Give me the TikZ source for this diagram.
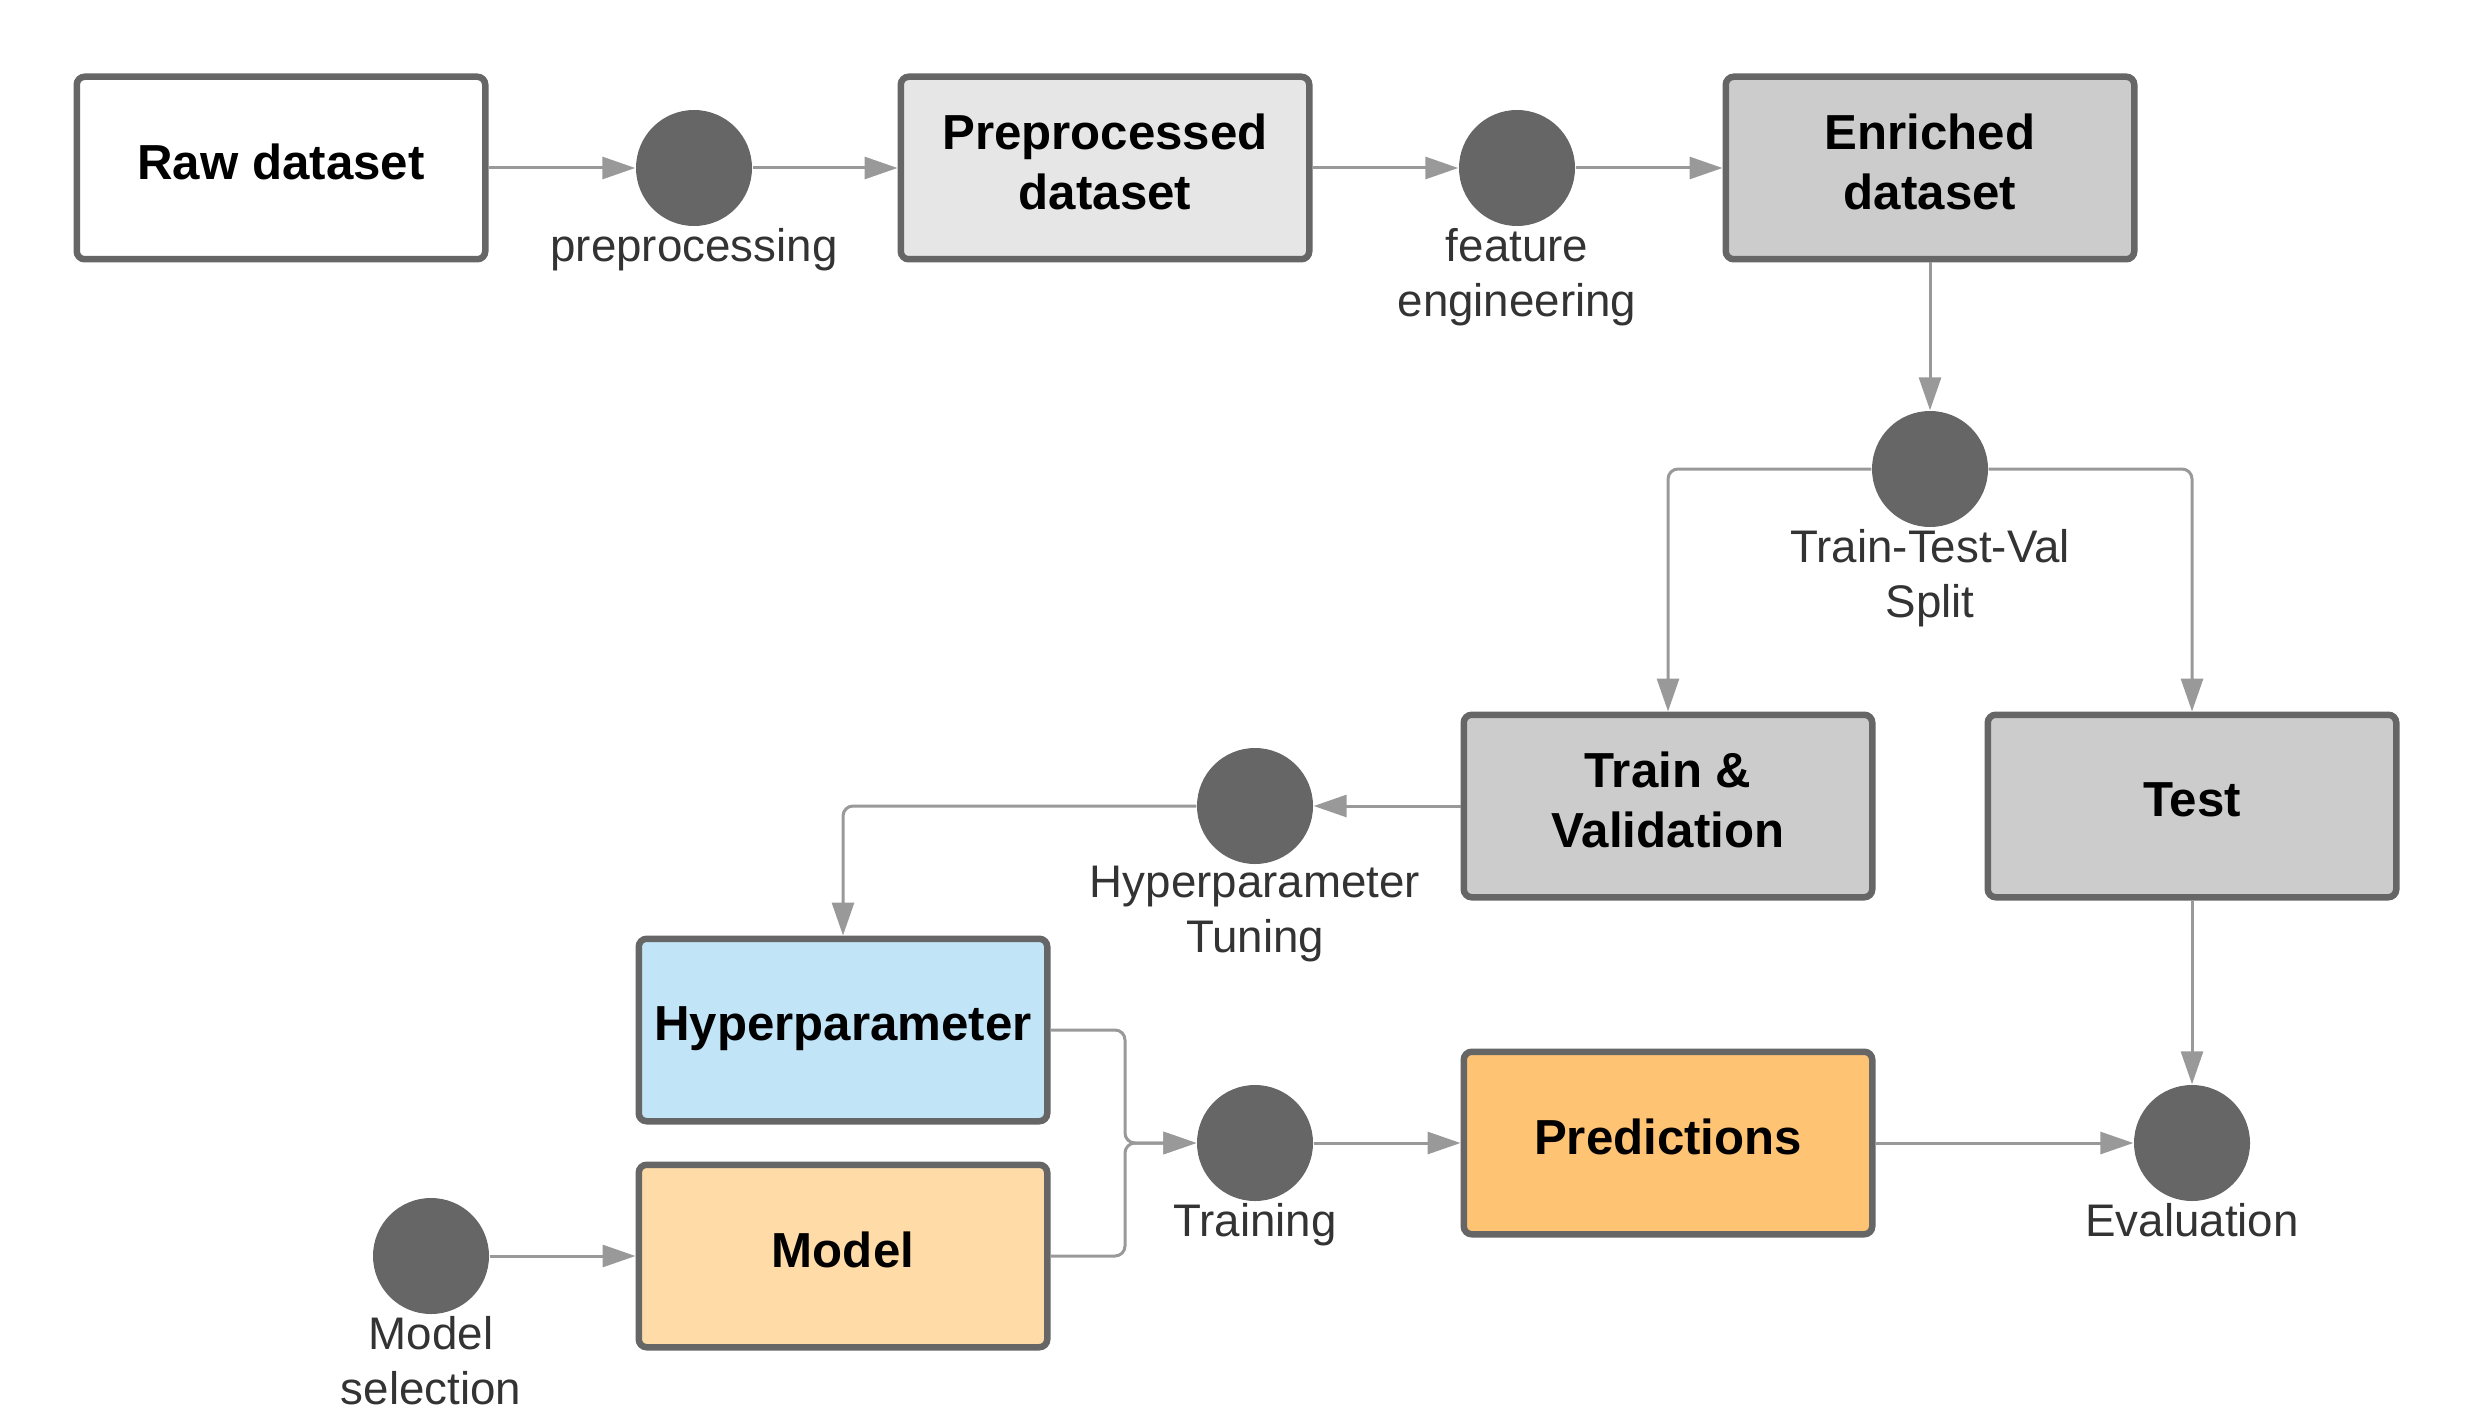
\documentclass[tikz,border=0pt]{standalone}
\usepackage{fontspec}
\setmainfont{Liberation Sans}
\usetikzlibrary{arrows.meta}

\definecolor{edgegray}{HTML}{666666}
\definecolor{linegray}{HTML}{999999}
\definecolor{dotgray}{HTML}{666666}
\definecolor{txtgray}{HTML}{333333}
\definecolor{lightbox}{HTML}{E6E6E6}
\definecolor{midbox}{HTML}{CCCCCC}
\definecolor{hyperblue}{HTML}{C2E4F7}
\definecolor{modelorange}{HTML}{FFDBA8}
\definecolor{predorange}{HTML}{FFC374}

\tikzset{
  databox/.style={draw=edgegray, line width=0.65mm, rounded corners=0.8mm,
    minimum width=40.85mm, minimum height=18.25mm, align=center, text depth=1.2mm,
    font=\fontsize{14pt}{17pt}\selectfont\bfseries},
  stepdot/.style={circle, fill=dotgray, minimum size=11.6mm, inner sep=0pt},
  steplbl/.style={below, inner sep=0.1mm, align=center, text=txtgray,
    font=\fontsize{13pt}{15.6pt}\selectfont},
  flow/.style={draw=linegray, line width=0.3mm, rounded corners=1mm,
    -{Triangle[length=3.3mm,width=2.2mm]}},
}

\begin{document}
\begin{tikzpicture}[x=0.1mm, y=-0.1mm]
    \useasboundingbox (0,0) rectangle (2475,1425);

    % Datasets and models
    \node[databox, fill=white] (raw) at (281,168) {Raw dataset};
    \node[databox, fill=lightbox] (prep) at (1105,168) {Preprocessed\\dataset};
    \node[databox, fill=midbox] (rich) at (1930,168) {Enriched\\dataset};
    \node[databox, fill=midbox] (trval) at (1668,806) {Train \&\\Validation};
    \node[databox, fill=midbox] (test) at (2192,806) {Test};
    \node[databox, fill=hyperblue] (hyper) at (843,1030) {Hyperparameter};
    \node[databox, fill=modelorange] (model) at (843,1256) {Model};
    \node[databox, fill=predorange] (pred) at (1668,1143) {Predictions};

    % Processing steps
    \node[stepdot] (dprep) at (694,168) {};
    \node[stepdot] (dfeat) at (1517,168) {};
    \node[stepdot] (dsplit) at (1930,469) {};
    \node[stepdot] (dtune) at (1255,806) {};
    \node[stepdot] (dtrain) at (1255,1143) {};
    \node[stepdot] (dsel) at (431,1256) {};
    \node[stepdot] (deval) at (2192,1143) {};

    % Step labels
    \node[steplbl] (lprep) at (dprep.south) {preprocessing};
    \node[steplbl] (lfeat) at (dfeat.south) {feature\\engineering};
    \node[steplbl] (lsplit) at (dsplit.south) {Train-Test-Val\\Split};
    \node[steplbl] (ltune) at (dtune.south) {Hyperparameter\\Tuning};
    \node[steplbl] (ltrain) at (dtrain.south) {Training};
    \node[steplbl] (lsel) at (dsel.south) {Model\\selection};
    \node[steplbl] (leval) at (deval.south) {Evaluation};

    % Flow
    \coordinate (join) at (1125,1143);
    \draw[flow] (raw) -- (dprep);
    \draw[flow] (dprep) -- (prep);
    \draw[flow] (prep) -- (dfeat);
    \draw[flow] (dfeat) -- (rich);
    \draw[flow] (rich) -- (dsplit);
    \draw[flow] (dsplit.west) -| (trval.north);
    \draw[flow] (dsplit.east) -| (test.north);
    \draw[flow] (trval) -- (dtune);
    \draw[flow] (dtune.west) -| (hyper.north);
    \draw[flow] (hyper.east) -| (join) -- (dtrain);
    \draw[flow] (model.east) -| (join) -- (dtrain);
    \draw[flow] (dsel) -- (model);
    \draw[flow] (dtrain) -- (pred);
    \draw[flow] (pred) -- (deval);
    \draw[flow] (test) -- (deval);

\end{tikzpicture}
\end{document}
